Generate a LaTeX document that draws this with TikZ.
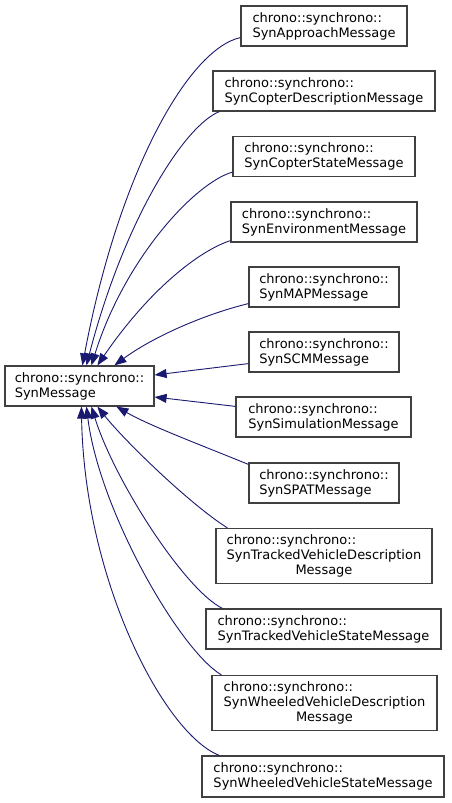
\documentclass[tikz,border=0pt]{standalone}
\usepackage{fontspec}
\setmainfont{DejaVu Sans}
\usetikzlibrary{arrows.meta}
\definecolor{edgeblue}{HTML}{191970}
\definecolor{boxgray}{HTML}{404040}
\begin{document}
\begin{tikzpicture}[x=1pt,y=-1pt,
  cls/.style={draw=boxgray,line width=1.2pt,fill=white,align=left,inner sep=0pt,
    minimum height=40pt,font=\fontsize{13}{15}\selectfont},
  inh/.style={draw=edgeblue,line width=0.9pt,-{Triangle[length=12pt,width=9pt]}}]
\useasboundingbox (0,0) rectangle (451,803);
\fill[white] (0,0) rectangle (451,803);
\node[cls,minimum width=149pt] (main) at (79.5,386) {chrono::synchrono::\\SynMessage};
\node[cls,minimum width=166pt] (app) at (324,26) {chrono::synchrono::\\SynApproachMessage};
\node[cls,minimum width=222pt] (cd) at (324,91) {chrono::synchrono::\\SynCopterDescriptionMessage};
\node[cls,minimum width=182pt] (cs) at (324,156.5) {chrono::synchrono::\\SynCopterStateMessage};
\node[cls,minimum width=186pt] (env) at (324,222) {chrono::synchrono::\\SynEnvironmentMessage};
\node[cls,minimum width=150pt] (map) at (324,287) {chrono::synchrono::\\SynMAPMessage};
\node[cls,minimum width=150pt] (scm) at (324,352) {chrono::synchrono::\\SynSCMMessage};
\node[cls,minimum width=175pt] (sim) at (323.5,417) {chrono::synchrono::\\SynSimulationMessage};
\node[cls,minimum width=150pt] (spat) at (324,483) {chrono::synchrono::\\SynSPATMessage};
\node[cls,minimum width=216pt,minimum height=55pt] (td) at (324,556)
  {\begin{tabular}{@{}l@{}}chrono::synchrono::\\SynTrackedVehicleDescription\\\multicolumn{1}{@{}c@{}}{Message}\end{tabular}};
\node[cls,minimum width=235pt] (ts) at (323.5,629) {chrono::synchrono::\\SynTrackedVehicleStateMessage};
\node[cls,minimum width=225pt,minimum height=55pt] (wd) at (324.5,703)
  {\begin{tabular}{@{}l@{}}chrono::synchrono::\\SynWheeledVehicleDescription\\\multicolumn{1}{@{}c@{}}{Message}\end{tabular}};
\node[cls,minimum width=242pt,minimum height=41pt] (ws) at (323,776.5) {chrono::synchrono::\\SynWheeledVehicleStateMessage};
% edges
\draw[inh] ([yshift=9pt]app.south west) .. controls +(-51,11) and +(37,-196) .. ([xshift=78pt]main.north west);
\draw[inh] ([xshift=7pt]cd.south west) .. controls +(-35,14) and +(38,-146) .. ([xshift=82pt]main.north west);
\draw[inh] ([yshift=5pt]cs.south west) .. controls +(-38,11) and +(33,-106) .. ([xshift=87pt]main.north west);
\draw[inh] ([yshift=2pt]env.south west) .. controls +(-31,10) and +(52,-76) .. ([xshift=93pt]main.north west);
\draw[inh] ([yshift=4pt]map.south west) .. controls +(-49,12) and +(35,-26) .. ([xshift=110pt]main.north west);
\draw[inh] ([yshift=9pt]scm.south west) -- ([yshift=11pt]main.east);
\draw[inh] ([yshift=-10pt]sim.north west) -- ([yshift=-11pt]main.east);
\draw[inh] ([yshift=-2pt]spat.north west) .. controls +(-49,-20) and +(33,19) .. ([xshift=112pt]main.south west);
\draw[inh] ([xshift=12pt]td.north west) .. controls +(-38,-24) and +(27,34) .. ([xshift=93pt]main.south west);
\draw[inh] ([xshift=17pt]ts.north west) .. controls +(-38,-19) and +(23,74) .. ([xshift=87pt]main.south west);
\draw[inh] ([xshift=10pt]wd.north west) .. controls +(-42,-25) and +(13,104) .. ([xshift=82pt]main.south west);
\draw[inh] ([xshift=18pt]ws.north west) .. controls +(-55,-21) and +(3,174) .. ([xshift=77pt]main.south west);
\end{tikzpicture}
\end{document}
